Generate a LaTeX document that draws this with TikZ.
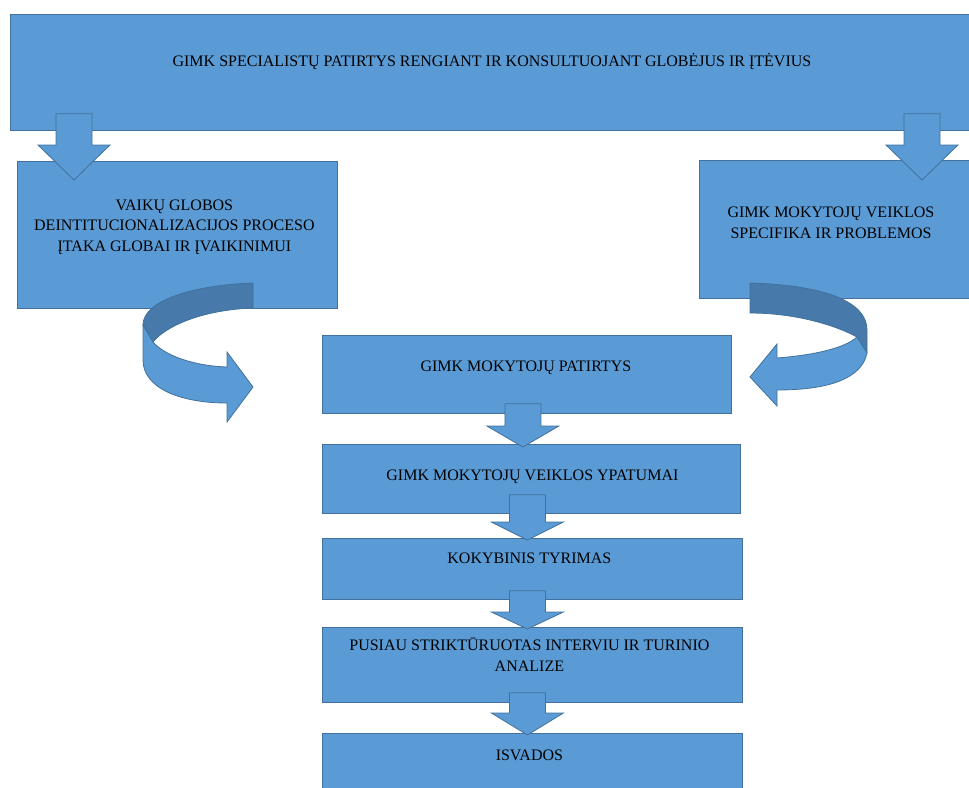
\documentclass[tikz,border=0pt]{standalone}
\usepackage{fontspec}
\setmainfont{Liberation Serif}
\usetikzlibrary{calc, positioning}
\definecolor{boxblue}{HTML}{5B9BD5}
\definecolor{edgeblue}{HTML}{41719C}
\definecolor{backblue}{HTML}{477AAB}
\tikzset{
 box/.style={draw=edgeblue, fill=boxblue, line width=0.8pt, rectangle, anchor=north west, inner sep=0pt},
 txt/.style={align=center, inner sep=0pt, font=\fontsize{16}{20.5}\selectfont, text=black},
 blockarrow/.style={draw=edgeblue, fill=boxblue, line width=0.8pt, line join=miter},
 backside/.style={draw=edgeblue, fill=backblue, line width=0.8pt, line join=round}
}
% #1 shaft top, #2 tip (only its y is used), #3 head length
\newcommand*{\blockdown}[3]{%
 \filldraw[blockarrow] let \p1=(#1), \p2=(#2) in
 (\x1-18pt,\y1) -- (\x1+18pt,\y1) -- (\x1+18pt,\y2+#3pt) -- (\x1+36pt,\y2+#3pt)
 -- (\x1,\y2) -- (\x1-36pt,\y2+#3pt) -- (\x1-18pt,\y2+#3pt) -- cycle;}

\begin{document}
\begin{tikzpicture}[x=1pt, y=1pt]
 \useasboundingbox (0,0) rectangle (969,-787);
 \clip (0,0) rectangle (969,-787);

 \node[box, minimum width=975, minimum height=116] (spec) at (10,-14) {};
 \node[box, minimum width=320, minimum height=147] (globa) at (17,-161) {};
 \node[box, minimum width=280, minimum height=138] (specifika) at (699,-160) {};
 \node[box, minimum width=409, minimum height=78] (patirtys) at (322,-335) {};
 \node[box, minimum width=418, minimum height=69] (ypatumai) at (322,-444) {};
 \node[box, minimum width=420, minimum height=61] (tyrimas) at (322,-538) {};
 \node[box, minimum width=420, minimum height=75] (interviu) at (322,-627) {};
 \node[box, minimum width=420, minimum height=80] (isvados) at (322,-733) {};

 \node[txt] (spec-t) at ($(spec.north west)+(482,-47)$) {GIMK SPECIALISTŲ PATIRTYS RENGIANT IR KONSULTUOJANT GLOBĖJUS IR ĮTĖVIUS};
 \node[txt] (globa-t) at ($(globa.north)+(-3,-66)$) {VAIKŲ GLOBOS\\DEINTITUCIONALIZACIJOS PROCESO\\ĮTAKA GLOBAI IR ĮVAIKINIMUI};
 \node[txt] (specifika-t) at ($(specifika.north west)+(132,-63)$) {GIMK MOKYTOJŲ VEIKLOS\\SPECIFIKA IR PROBLEMOS};
 \node[txt] (patirtys-t) at ($(patirtys.north)+(-1,-33)$) {GIMK MOKYTOJŲ PATIRTYS};
 \node[txt] (ypatumai-t) at ($(ypatumai.north)+(1,-33)$) {GIMK MOKYTOJŲ VEIKLOS YPATUMAI};
 \node[txt] (tyrimas-t) at ($(tyrimas.north)+(-3,-20)$) {KOKYBINIS TYRIMAS};
 \node[txt] (interviu-t) at ($(interviu.north)+(-3,-28)$) {PUSIAU STRIKTŪRUOTAS INTERVIU IR TURINIO\\ANALIZE};
 \node[txt] (isvados-t) at ($(isvados.north)+(-3,-22)$) {ISVADOS};

 \blockdown{$(spec.south west)+(64,17)$}{$(globa.north)+(0,-19)$}{35}
 \blockdown{$(spec.south west)+(912,17)$}{$(specifika.north)+(0,-20)$}{35}
 \blockdown{$(patirtys.south)+(-4,10)$}{$(ypatumai.north)+(0,-3)$}{21}
 \blockdown{$(ypatumai.south)+(-4,19)$}{$(tyrimas.north)+(0,-2)$}{18}
 \blockdown{$(tyrimas.south)+(-5,9)$}{$(interviu.north)+(0,-2)$}{17}
 \blockdown{$(interviu.south)+(-5,10)$}{$(isvados.north)+(0,-2)$}{22}

 % turning arrows
 \filldraw[backside] (253,-283) .. controls (195,-285) and (143,-300) .. (143,-325)
  -- (153,-342) .. controls (165,-327) and (200,-310) .. (253,-308) -- cycle;
 \filldraw[blockarrow] (143,-325) -- (143,-360) .. controls (143,-388) and (180,-403) .. (227,-403)
  -- (227,-422) -- (253,-387) -- (227,-352) -- (227,-367)
  .. controls (195,-366) and (165,-356) .. (153,-342) -- cycle;
 \filldraw[backside] (750,-283) .. controls (820,-285) and (867,-300) .. (867,-330)
  -- (867,-353) -- (857,-337) .. controls (835,-325) and (795,-313) .. (750,-313) -- cycle;
 \filldraw[blockarrow] (857,-337) -- (867,-353) .. controls (862,-378) and (830,-390) .. (777,-390)
  -- (777,-406) -- (750,-377) -- (777,-344) -- (777,-358)
  .. controls (815,-355) and (845,-348) .. (857,-337) -- cycle;
\end{tikzpicture}
\end{document}
